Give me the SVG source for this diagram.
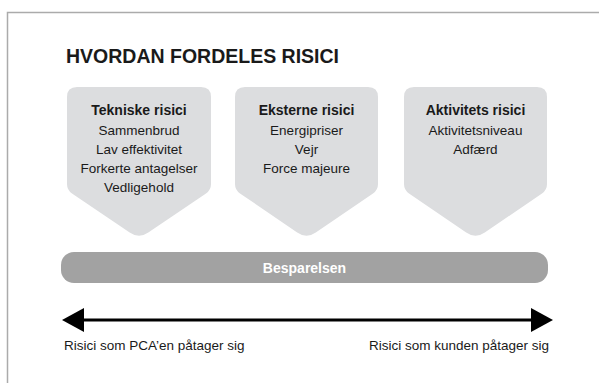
<svg xmlns="http://www.w3.org/2000/svg" width="599" height="383" viewBox="0 0 599 383">
<defs>
<style>
.frame{fill:none;stroke:#ababab;stroke-width:1.5}
.box{fill:#dcdddf}
.bar{fill:#a2a2a2}
text{font-family:"Liberation Sans",Arial,sans-serif;fill:#1a1a1a}
.title{font-size:19.5px;font-weight:bold}
.h{font-size:14px;font-weight:bold;text-anchor:middle}
.t{font-size:13.5px;text-anchor:middle}
.bt{font-size:14px;font-weight:bold;fill:#ffffff;text-anchor:middle}
.lbl{font-size:13.5px}
.axis{fill:none;stroke:#000;stroke-width:3}
</style>
<marker id="ah" markerUnits="userSpaceOnUse" markerWidth="22" markerHeight="24" viewBox="0 0 22 24" refX="4" refY="12" orient="auto-start-reverse">
<path d="M0,0 L22,12 L0,24 Z" fill="#000"/>
</marker>
</defs>
<path class="frame" d="M7.5,383 V12.5 H599"/>
<text class="title" x="66" y="63">HVORDAN FORDELES RISICI</text>
<g id="tekniske">
<path class="box" d="M77,87 H201 Q211,87 211,97 V184 Q211,190 206,193.4 L148.3,232.5 Q139,239 129.7,232.5 L72,193.4 Q67,190 67,184 V97 Q67,87 77,87 Z"/>
<text class="h" x="139" y="115">Tekniske risici</text>
<text class="t" x="139" y="135">Sammenbrud</text>
<text class="t" x="139" y="154">Lav effektivitet</text>
<text class="t" x="139" y="173">Forkerte antagelser</text>
<text class="t" x="139" y="192">Vedligehold</text>
</g>
<g id="eksterne">
<path class="box" d="M245,87 H368 Q378,87 378,97 V184 Q378,190 373,193.4 L315.8,232.5 Q306.5,239 297.2,232.5 L240,193.4 Q235,190 235,184 V97 Q235,87 245,87 Z"/>
<text class="h" x="306.5" y="115">Eksterne risici</text>
<text class="t" x="306.5" y="135">Energipriser</text>
<text class="t" x="306.5" y="154">Vejr</text>
<text class="t" x="306.5" y="173">Force majeure</text>
</g>
<g id="aktivitets">
<path class="box" d="M414,87 H537 Q547,87 547,97 V184 Q547,190 542,193.4 L484.8,232.5 Q475.5,239 466.2,232.5 L409,193.4 Q404,190 404,184 V97 Q404,87 414,87 Z"/>
<text class="h" x="475.5" y="115">Aktivitets risici</text>
<text class="t" x="475.5" y="135">Aktivitetsniveau</text>
<text class="t" x="475.5" y="154">Adfærd</text>
</g>
<g id="besparelsen">
<rect class="bar" x="61" y="252" width="487" height="31" rx="13"/>
<text class="bt" x="304.5" y="273">Besparelsen</text>
</g>
<g id="connectors">
<path class="axis" d="M80,320 H535" marker-start="url(#ah)" marker-end="url(#ah)"/>
</g>
<text class="lbl" x="64" y="350">Risici som PCA’en påtager sig</text>
<text class="lbl" x="549" y="350" text-anchor="end">Risici som kunden påtager sig</text>
</svg>
